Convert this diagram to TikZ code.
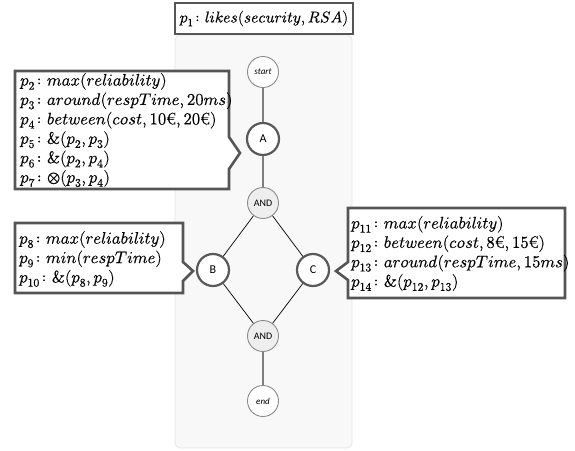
\documentclass[tikz,border=0pt]{standalone}
\usepackage{amsmath}
\usepackage{fontspec}
\usepackage{unicode-math}
\setmathfont{Latin Modern Math}[FakeBold=0.4]
\setmainfont{Latin Modern Roman}[FakeBold=0.4]
\newfontfamily\lab{Carlito}
\definecolor{boxc}{HTML}{555555}
\definecolor{circc}{HTML}{595959}
\definecolor{thinc}{HTML}{8A8A8A}
\definecolor{andc}{HTML}{EEEEEE}
\definecolor{linkc}{HTML}{7F7F7F}
\definecolor{panelc}{HTML}{F8F8F8}
\definecolor{panelb}{HTML}{E6E6E6}
\begin{document}
\begin{tikzpicture}[x=1pt,y=-1pt,
  box/.style={draw=boxc, line width=2.6pt, fill=white, line join=miter},
  big/.style={circle, draw=circc, line width=2.2pt, fill=white, minimum size=32pt, inner sep=0pt, font=\lab\fontsize{12}{12}\selectfont},
  small/.style={circle, draw=thinc, line width=0.9pt, fill=white, minimum size=31pt, inner sep=0pt, font=\lab\itshape\fontsize{9}{9}\selectfont},
  andn/.style={small, fill=andc, font=\lab\fontsize{10}{10}\selectfont},
  txt/.style={anchor=west, inner sep=0pt, align=left, font=\fontsize{16.7}{19.4}\selectfont},
  glink/.style={draw=linkc, line width=1.6pt},
  tlink/.style={draw=black, line width=0.7pt}]
\useasboundingbox (0,0) rectangle (575,450);
\draw[fill=panelc, draw=panelb, rounded corners=5pt, line width=0.8pt] (175,35) rectangle (352,448);
\draw[box] (175,3) rectangle (353,34);
\node[inner sep=0pt, font=\fontsize{15.6}{16}\selectfont] (p1) at (264,18.5) {$p_1\colon likes(security,RSA)$};

\node[small] (start) at (263,72) {start};
\node[big] (A) at (263,139) {A};
\node[andn] (and1) at (263,203) {AND};
\node[big] (B) at (213,270) {B};
\node[big] (C) at (313,270) {C};
\node[andn] (and2) at (263,336) {AND};
\node[small] (end) at (263,401) {end};

\draw[glink] (start) -- (A);
\draw[glink] (A) -- (and1);
\draw[tlink] (and1) -- (B);
\draw[tlink] (and1) -- (C);
\draw[tlink] (B) -- (and2);
\draw[tlink] (C) -- (and2);
\draw[glink] (and2) -- (end);

\draw[box] (15,71) -- (229,71) -- (229,137) -- (240,153) -- (229,169) -- (229,189) -- (15,189) -- cycle;
\draw[box] (15,223) -- (183,223) -- (183,262) -- (193,271) -- (183,281) -- (183,293) -- (15,293) -- cycle;
\draw[box] (348,208) -- (565,208) -- (565,298) -- (348,298) -- (348,280) -- (336,271) -- (348,262) -- cycle;

\node[txt] (t1) at (20,130) {$p_2\colon max(reliability)$\\
$p_3\colon around(respTime,20ms)$\\
$p_4\colon between(cost,10\text{€},20\text{€})$\\
$p_5\colon \&(p_2,p_3)$\\
$p_6\colon \&(p_2,p_4)$\\
$p_7\colon {\otimes}(p_3,p_4)$};
\node[txt] (t2) at (19,259) {$p_8\colon max(reliability)$\\
$p_9\colon min(respTime)$\\
$p_{10}\colon \&(p_8,p_9)$};
\node[txt] (t3) at (351,253.5) {$p_{11}\colon max(reliability)$\\
$p_{12}\colon between(cost,8\text{€},15\text{€})$\\
$p_{13}\colon around(respTime,15ms)$\\
$p_{14}\colon \&(p_{12},p_{13})$};
\end{tikzpicture}
\end{document}
